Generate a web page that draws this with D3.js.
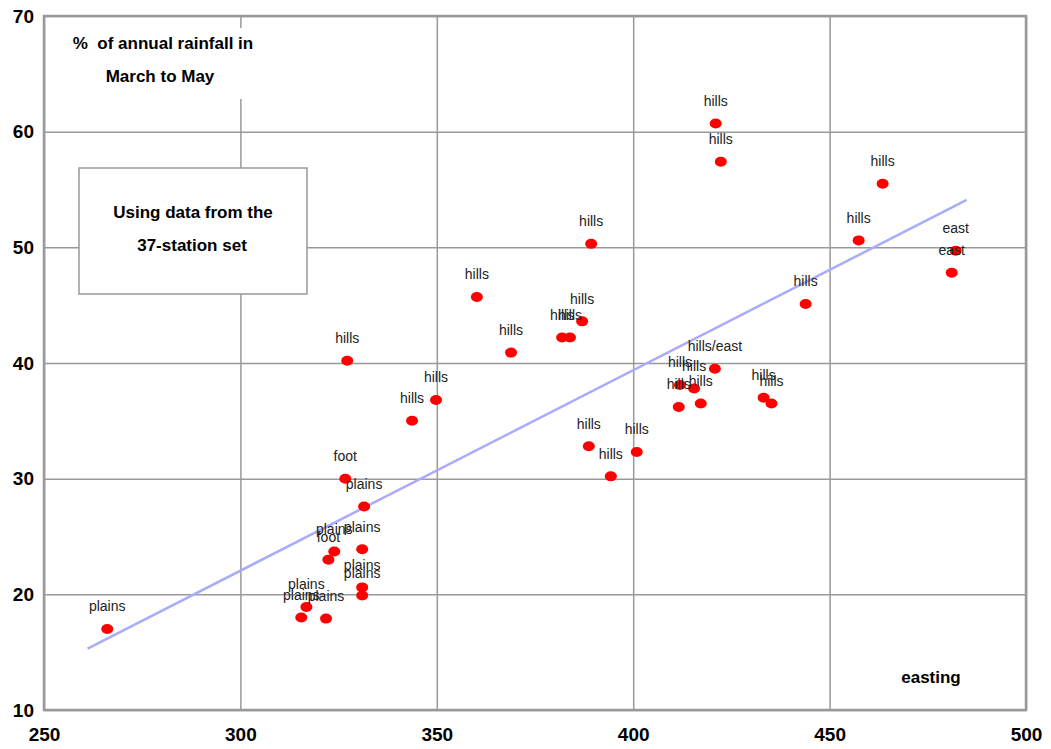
<!DOCTYPE html>
<html>
<head>
<meta charset="utf-8">
<script src="https://cdn.jsdelivr.net/npm/d3@7"></script>
<style>
  html, body { margin: 0; padding: 0; background: #fff; }
  svg { display: block; font-family: "Liberation Sans", Arial, sans-serif; }
</style>
</head>
<body>
<svg id="chart" width="1051" height="749"></svg>
<script>
// ---- data ----
const eastings = [266.1, 315.5, 316.8, 321.8, 331.0, 331.0, 322.4, 323.9, 331.0, 331.5,
  326.7, 327.2, 343.7, 349.8, 360.2, 368.9, 381.9, 383.9, 387.0, 389.3,
  388.7, 394.3, 400.9, 411.9, 415.5, 420.8, 411.6, 417.2, 433.2, 435.2,
  421.0, 422.3, 443.9, 457.4, 463.5, 482.1, 481.1];
const rainfallPct = [17.0, 18.0, 18.9, 17.9, 19.9, 20.6, 23.0, 23.7, 23.9, 27.6,
  30.0, 40.2, 35.0, 36.8, 45.7, 40.9, 42.2, 42.2, 43.6, 50.3,
  32.8, 30.2, 32.3, 38.1, 37.8, 39.5, 36.2, 36.5, 37.0, 36.5,
  60.7, 57.4, 45.1, 50.6, 55.5, 49.7, 47.8];
const zones = ["plains", "plains", "plains", "plains", "plains", "plains", "foot", "plains", "plains", "plains",
  "foot", "hills", "hills", "hills", "hills", "hills", "hills", "hills", "hills", "hills",
  "hills", "hills", "hills", "hills", "hills", "hills/east", "hills", "hills", "hills", "hills",
  "hills", "hills", "hills", "hills", "hills", "east", "east"];
const trendX = [261.1, 484.9];
const trendY = [15.3, 54.1];
const xTicks = [250, 300, 350, 400, 450, 500];
const yTicks = [10, 20, 30, 40, 50, 60, 70];

(function () {
// ---- layout ----
const svg = d3.select("#chart");
const pL = 44, pR = 1026, pT = 16, pB = 710;
const x = d3.scaleLinear().domain([250, 500]).range([pL, pR]);
const y = d3.scaleLinear().domain([10, 70]).range([pB, pT]);
const grid = "#999999";

// grid + x tick labels
const gx = svg.append("g").attr("transform", `translate(0,${pB})`)
  .call(d3.axisBottom(x).tickValues(xTicks).tickFormat(d3.format("d"))
    .tickSize(-(pB - pT)).tickPadding(18));
gx.select(".domain").remove();
gx.selectAll(".tick line").attr("stroke", grid).attr("stroke-width", 1.5);
gx.selectAll(".tick text").attr("font-size", 19).attr("font-weight", "bold")
  .attr("fill", "#000").attr("font-family", "Liberation Sans, Arial, sans-serif");

const gy = svg.append("g").attr("transform", `translate(${pL},0)`)
  .call(d3.axisLeft(y).tickValues(yTicks).tickFormat(d3.format("d"))
    .tickSize(-(pR - pL)).tickPadding(10));
gy.select(".domain").remove();
gy.selectAll(".tick line").attr("stroke", grid).attr("stroke-width", 1.5);
gy.selectAll(".tick text").attr("font-size", 19).attr("font-weight", "bold")
  .attr("fill", "#000").attr("font-family", "Liberation Sans, Arial, sans-serif");

// plot border
svg.append("rect").attr("x", pL).attr("y", pT)
  .attr("width", pR - pL).attr("height", pB - pT)
  .attr("fill", "none").attr("stroke", grid).attr("stroke-width", 2.5);

// title block (white background hides gridline)
svg.append("rect").attr("x", 62).attr("y", 28).attr("width", 206).attr("height", 71).attr("fill", "#fff");
const titleG = svg.append("g").attr("font-size", 17).attr("font-weight", "bold").attr("fill", "#000");
titleG.append("text").attr("x", 163).attr("y", 43).attr("dy", "0.35em")
  .attr("text-anchor", "middle").style("white-space", "pre").text("%  of annual rainfall in");
titleG.append("text").attr("x", 160).attr("y", 76).attr("dy", "0.35em")
  .attr("text-anchor", "middle").text("March to May");

// note box
svg.append("rect").attr("x", 79).attr("y", 168).attr("width", 228).attr("height", 126)
  .attr("fill", "#fff").attr("stroke", grid).attr("stroke-width", 1.5);
const noteG = svg.append("g").attr("font-size", 17).attr("font-weight", "bold").attr("fill", "#000")
  .attr("text-anchor", "middle");
noteG.append("text").attr("x", 193).attr("y", 212).attr("dy", "0.35em").text("Using data from the");
noteG.append("text").attr("x", 192).attr("y", 245).attr("dy", "0.35em").text("37-station set");

// x axis title
svg.append("text").attr("x", 931).attr("y", 677).attr("dy", "0.35em")
  .attr("text-anchor", "middle").attr("font-size", 17).attr("font-weight", "bold")
  .attr("fill", "#000").text("easting");

// trend line
svg.append("line")
  .attr("x1", x(trendX[0])).attr("y1", y(trendY[0]))
  .attr("x2", x(trendX[1])).attr("y2", y(trendY[1]))
  .attr("stroke", "#aaaaff").attr("stroke-width", 2.5);

// points
const pts = eastings.map((e, i) => ({ e, r: rainfallPct[i], z: zones[i] }));
svg.append("g").selectAll("ellipse").data(pts).join("ellipse")
  .attr("cx", d => x(d.e)).attr("cy", d => y(d.r))
  .attr("rx", 6).attr("ry", 5).attr("fill", "#ff0000");

// labels
svg.append("g").attr("font-size", 14).attr("fill", "#222").attr("text-anchor", "middle")
  .selectAll("text").data(pts).join("text")
  .attr("x", d => x(d.e)).attr("y", d => y(d.r) - 22.5).attr("dy", "0.35em")
  .text(d => d.z);
})();
</script>
</body>
</html>
